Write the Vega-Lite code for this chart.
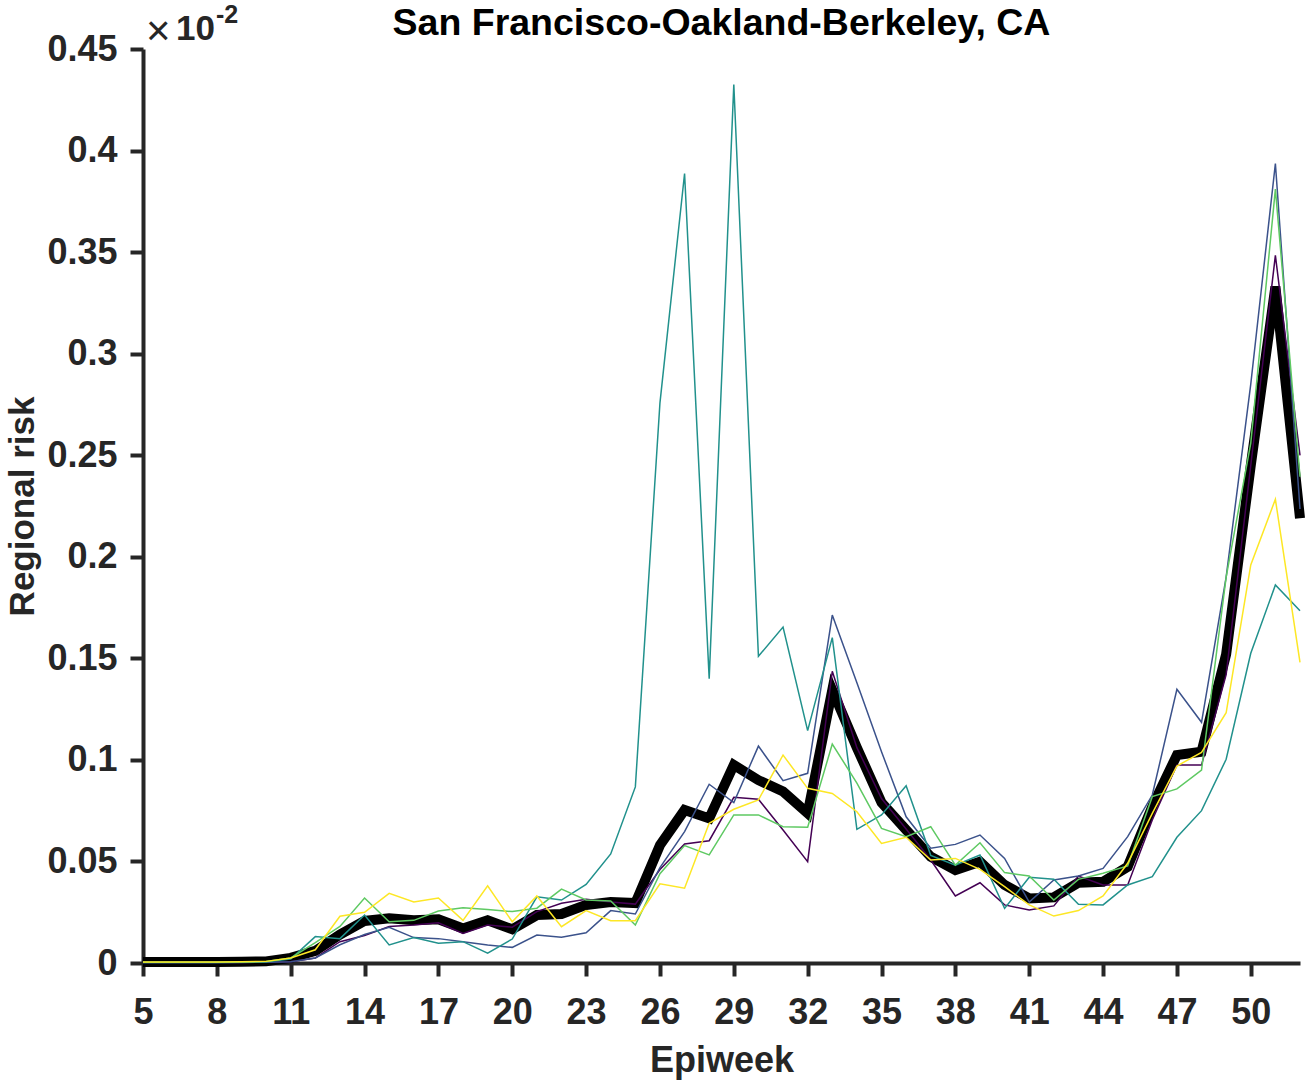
{
  "$schema": "https://vega.github.io/schema/vega-lite/v6.json",
  "width": 1157,
  "height": 914,
  "autosize": {"type": "none"},
  "padding": {"left": 143, "top": 49, "right": 10, "bottom": 120},
  "background": "white",
  "config": {"view": {"stroke": null}, "font": "Liberation Sans"},
  "title": {"text": "San Francisco-Oakland-Berkeley, CA", "fontSize": 37.5, "fontWeight": "bold", "color": "#000000", "anchor": "middle", "offset": 6, "dy": 45, "font": "Liberation Sans"},
  "datasets": {
    "risk": [
      {"w":5,"s":"mean","v":0.0005},{"w":6,"s":"mean","v":0.0005},{"w":7,"s":"mean","v":0.0005},{"w":8,"s":"mean","v":0.0005},{"w":9,"s":"mean","v":0.0006},{"w":10,"s":"mean","v":0.0008},{"w":11,"s":"mean","v":0.0025},{"w":12,"s":"mean","v":0.006},{"w":13,"s":"mean","v":0.014},{"w":14,"s":"mean","v":0.0207},{"w":15,"s":"mean","v":0.022},{"w":16,"s":"mean","v":0.021},{"w":17,"s":"mean","v":0.0215},{"w":18,"s":"mean","v":0.017},{"w":19,"s":"mean","v":0.021},{"w":20,"s":"mean","v":0.0166},{"w":21,"s":"mean","v":0.0236},{"w":22,"s":"mean","v":0.0241},{"w":23,"s":"mean","v":0.0286},{"w":24,"s":"mean","v":0.03},{"w":25,"s":"mean","v":0.0295},{"w":26,"s":"mean","v":0.058},{"w":27,"s":"mean","v":0.0753},{"w":28,"s":"mean","v":0.0712},{"w":29,"s":"mean","v":0.0975},{"w":30,"s":"mean","v":0.09},{"w":31,"s":"mean","v":0.0844},{"w":32,"s":"mean","v":0.0737},{"w":33,"s":"mean","v":0.1344},{"w":34,"s":"mean","v":0.106},{"w":35,"s":"mean","v":0.079},{"w":36,"s":"mean","v":0.0655},{"w":37,"s":"mean","v":0.0523},{"w":38,"s":"mean","v":0.0458},{"w":39,"s":"mean","v":0.0499},{"w":40,"s":"mean","v":0.0384},{"w":41,"s":"mean","v":0.0318},{"w":42,"s":"mean","v":0.0323},{"w":43,"s":"mean","v":0.0395},{"w":44,"s":"mean","v":0.04},{"w":45,"s":"mean","v":0.0474},{"w":46,"s":"mean","v":0.077},{"w":47,"s":"mean","v":0.1024},{"w":48,"s":"mean","v":0.104},{"w":49,"s":"mean","v":0.152},{"w":50,"s":"mean","v":0.245},{"w":51,"s":"mean","v":0.333},{"w":52,"s":"mean","v":0.219},

      {"w":5,"s":"r1","v":0.0002},{"w":6,"s":"r1","v":0.0002},{"w":7,"s":"r1","v":0.0002},{"w":8,"s":"r1","v":0.0002},{"w":9,"s":"r1","v":0.0003},{"w":10,"s":"r1","v":0.0004},{"w":11,"s":"r1","v":0.0006},{"w":12,"s":"r1","v":0.0025},{"w":13,"s":"r1","v":0.0105},{"w":14,"s":"r1","v":0.0135},{"w":15,"s":"r1","v":0.018},{"w":16,"s":"r1","v":0.0187},{"w":17,"s":"r1","v":0.0198},{"w":18,"s":"r1","v":0.0146},{"w":19,"s":"r1","v":0.0187},{"w":20,"s":"r1","v":0.0176},{"w":21,"s":"r1","v":0.0253},{"w":22,"s":"r1","v":0.0294},{"w":23,"s":"r1","v":0.0314},{"w":24,"s":"r1","v":0.03},{"w":25,"s":"r1","v":0.029},{"w":26,"s":"r1","v":0.046},{"w":27,"s":"r1","v":0.0586},{"w":28,"s":"r1","v":0.0602},{"w":29,"s":"r1","v":0.0816},{"w":30,"s":"r1","v":0.0806},{"w":31,"s":"r1","v":0.0655},{"w":32,"s":"r1","v":0.0499},{"w":33,"s":"r1","v":0.1436},{"w":34,"s":"r1","v":0.106},{"w":35,"s":"r1","v":0.081},{"w":36,"s":"r1","v":0.066},{"w":37,"s":"r1","v":0.0507},{"w":38,"s":"r1","v":0.033},{"w":39,"s":"r1","v":0.0395},{"w":40,"s":"r1","v":0.0286},{"w":41,"s":"r1","v":0.0261},{"w":42,"s":"r1","v":0.0281},{"w":43,"s":"r1","v":0.0428},{"w":44,"s":"r1","v":0.0384},{"w":45,"s":"r1","v":0.0384},{"w":46,"s":"r1","v":0.0704},{"w":47,"s":"r1","v":0.0975},{"w":48,"s":"r1","v":0.0975},{"w":49,"s":"r1","v":0.142},{"w":50,"s":"r1","v":0.245},{"w":51,"s":"r1","v":0.3484},{"w":52,"s":"r1","v":0.2499},

      {"w":5,"s":"r2","v":0.0002},{"w":6,"s":"r2","v":0.0002},{"w":7,"s":"r2","v":0.0002},{"w":8,"s":"r2","v":0.0003},{"w":9,"s":"r2","v":0.0003},{"w":10,"s":"r2","v":0.0004},{"w":11,"s":"r2","v":0.0006},{"w":12,"s":"r2","v":0.0025},{"w":13,"s":"r2","v":0.009},{"w":14,"s":"r2","v":0.014},{"w":15,"s":"r2","v":0.0176},{"w":16,"s":"r2","v":0.0125},{"w":17,"s":"r2","v":0.012},{"w":18,"s":"r2","v":0.0105},{"w":19,"s":"r2","v":0.0089},{"w":20,"s":"r2","v":0.0077},{"w":21,"s":"r2","v":0.0138},{"w":22,"s":"r2","v":0.0127},{"w":23,"s":"r2","v":0.0149},{"w":24,"s":"r2","v":0.0258},{"w":25,"s":"r2","v":0.0241},{"w":26,"s":"r2","v":0.047},{"w":27,"s":"r2","v":0.0647},{"w":28,"s":"r2","v":0.088},{"w":29,"s":"r2","v":0.079},{"w":30,"s":"r2","v":0.1068},{"w":31,"s":"r2","v":0.0898},{"w":32,"s":"r2","v":0.0934},{"w":33,"s":"r2","v":0.1713},{"w":34,"s":"r2","v":0.138},{"w":35,"s":"r2","v":0.104},{"w":36,"s":"r2","v":0.072},{"w":37,"s":"r2","v":0.0565},{"w":38,"s":"r2","v":0.0584},{"w":39,"s":"r2","v":0.063},{"w":40,"s":"r2","v":0.0515},{"w":41,"s":"r2","v":0.03},{"w":42,"s":"r2","v":0.0409},{"w":43,"s":"r2","v":0.0428},{"w":44,"s":"r2","v":0.0466},{"w":45,"s":"r2","v":0.0622},{"w":46,"s":"r2","v":0.0827},{"w":47,"s":"r2","v":0.1348},{"w":48,"s":"r2","v":0.1185},{"w":49,"s":"r2","v":0.19},{"w":50,"s":"r2","v":0.285},{"w":51,"s":"r2","v":0.3936},{"w":52,"s":"r2","v":0.2235},

      {"w":5,"s":"r3","v":0.0003},{"w":6,"s":"r3","v":0.0003},{"w":7,"s":"r3","v":0.0003},{"w":8,"s":"r3","v":0.0003},{"w":9,"s":"r3","v":0.0004},{"w":10,"s":"r3","v":0.0006},{"w":11,"s":"r3","v":0.002},{"w":12,"s":"r3","v":0.013},{"w":13,"s":"r3","v":0.012},{"w":14,"s":"r3","v":0.0236},{"w":15,"s":"r3","v":0.0089},{"w":16,"s":"r3","v":0.0125},{"w":17,"s":"r3","v":0.0097},{"w":18,"s":"r3","v":0.0105},{"w":19,"s":"r3","v":0.0048},{"w":20,"s":"r3","v":0.0118},{"w":21,"s":"r3","v":0.0326},{"w":22,"s":"r3","v":0.031},{"w":23,"s":"r3","v":0.0387},{"w":24,"s":"r3","v":0.0537},{"w":25,"s":"r3","v":0.0867},{"w":26,"s":"r3","v":0.2758},{"w":27,"s":"r3","v":0.3887},{"w":28,"s":"r3","v":0.14},{"w":29,"s":"r3","v":0.4325},{"w":30,"s":"r3","v":0.151},{"w":31,"s":"r3","v":0.1654},{"w":32,"s":"r3","v":0.1144},{"w":33,"s":"r3","v":0.1602},{"w":34,"s":"r3","v":0.0658},{"w":35,"s":"r3","v":0.0729},{"w":36,"s":"r3","v":0.0873},{"w":37,"s":"r3","v":0.053},{"w":38,"s":"r3","v":0.0482},{"w":39,"s":"r3","v":0.0532},{"w":40,"s":"r3","v":0.0269},{"w":41,"s":"r3","v":0.0422},{"w":42,"s":"r3","v":0.0412},{"w":43,"s":"r3","v":0.0289},{"w":44,"s":"r3","v":0.0286},{"w":45,"s":"r3","v":0.0384},{"w":46,"s":"r3","v":0.0425},{"w":47,"s":"r3","v":0.0619},{"w":48,"s":"r3","v":0.075},{"w":49,"s":"r3","v":0.1003},{"w":50,"s":"r3","v":0.1525},{"w":51,"s":"r3","v":0.1861},{"w":52,"s":"r3","v":0.1734},

      {"w":5,"s":"r4","v":0.0004},{"w":6,"s":"r4","v":0.0004},{"w":7,"s":"r4","v":0.0004},{"w":8,"s":"r4","v":0.0004},{"w":9,"s":"r4","v":0.0005},{"w":10,"s":"r4","v":0.0007},{"w":11,"s":"r4","v":0.0025},{"w":12,"s":"r4","v":0.01},{"w":13,"s":"r4","v":0.018},{"w":14,"s":"r4","v":0.032},{"w":15,"s":"r4","v":0.0203},{"w":16,"s":"r4","v":0.021},{"w":17,"s":"r4","v":0.0256},{"w":18,"s":"r4","v":0.0272},{"w":19,"s":"r4","v":0.0264},{"w":20,"s":"r4","v":0.0253},{"w":21,"s":"r4","v":0.027},{"w":22,"s":"r4","v":0.0364},{"w":23,"s":"r4","v":0.031},{"w":24,"s":"r4","v":0.0305},{"w":25,"s":"r4","v":0.0187},{"w":26,"s":"r4","v":0.044},{"w":27,"s":"r4","v":0.0578},{"w":28,"s":"r4","v":0.0532},{"w":29,"s":"r4","v":0.0729},{"w":30,"s":"r4","v":0.0729},{"w":31,"s":"r4","v":0.0671},{"w":32,"s":"r4","v":0.0668},{"w":33,"s":"r4","v":0.1078},{"w":34,"s":"r4","v":0.0886},{"w":35,"s":"r4","v":0.0663},{"w":36,"s":"r4","v":0.0622},{"w":37,"s":"r4","v":0.0671},{"w":38,"s":"r4","v":0.0482},{"w":39,"s":"r4","v":0.0592},{"w":40,"s":"r4","v":0.0445},{"w":41,"s":"r4","v":0.0428},{"w":42,"s":"r4","v":0.031},{"w":43,"s":"r4","v":0.0412},{"w":44,"s":"r4","v":0.0442},{"w":45,"s":"r4","v":0.0478},{"w":46,"s":"r4","v":0.0819},{"w":47,"s":"r4","v":0.0857},{"w":48,"s":"r4","v":0.095},{"w":49,"s":"r4","v":0.19},{"w":50,"s":"r4","v":0.256},{"w":51,"s":"r4","v":0.381},{"w":52,"s":"r4","v":0.2394},

      {"w":5,"s":"r5","v":0.0005},{"w":6,"s":"r5","v":0.0005},{"w":7,"s":"r5","v":0.0005},{"w":8,"s":"r5","v":0.0005},{"w":9,"s":"r5","v":0.0006},{"w":10,"s":"r5","v":0.0008},{"w":11,"s":"r5","v":0.0025},{"w":12,"s":"r5","v":0.0065},{"w":13,"s":"r5","v":0.023},{"w":14,"s":"r5","v":0.025},{"w":15,"s":"r5","v":0.0343},{"w":16,"s":"r5","v":0.03},{"w":17,"s":"r5","v":0.032},{"w":18,"s":"r5","v":0.021},{"w":19,"s":"r5","v":0.038},{"w":20,"s":"r5","v":0.0203},{"w":21,"s":"r5","v":0.033},{"w":22,"s":"r5","v":0.0179},{"w":23,"s":"r5","v":0.0258},{"w":24,"s":"r5","v":0.0208},{"w":25,"s":"r5","v":0.0208},{"w":26,"s":"r5","v":0.039},{"w":27,"s":"r5","v":0.0368},{"w":28,"s":"r5","v":0.0688},{"w":29,"s":"r5","v":0.0757},{"w":30,"s":"r5","v":0.0803},{"w":31,"s":"r5","v":0.1024},{"w":32,"s":"r5","v":0.086},{"w":33,"s":"r5","v":0.0835},{"w":34,"s":"r5","v":0.0745},{"w":35,"s":"r5","v":0.0589},{"w":36,"s":"r5","v":0.0619},{"w":37,"s":"r5","v":0.0507},{"w":38,"s":"r5","v":0.0515},{"w":39,"s":"r5","v":0.0461},{"w":40,"s":"r5","v":0.0376},{"w":41,"s":"r5","v":0.0286},{"w":42,"s":"r5","v":0.0231},{"w":43,"s":"r5","v":0.0258},{"w":44,"s":"r5","v":0.033},{"w":45,"s":"r5","v":0.0491},{"w":46,"s":"r5","v":0.0737},{"w":47,"s":"r5","v":0.097},{"w":48,"s":"r5","v":0.1037},{"w":49,"s":"r5","v":0.1232},{"w":50,"s":"r5","v":0.196},{"w":51,"s":"r5","v":0.2283},{"w":52,"s":"r5","v":0.148}
    ],
    "exponent": [
      {"w": 5, "v": 0.45, "t": "×"}
    ],
    "expbase": [
      {"w": 5, "v": 0.45, "t": "10"}
    ],
    "exppow": [
      {"w": 5, "v": 0.45, "t": "-2"}
    ]
  },
  "data": {"name": "risk"},
  "encoding": {
    "x": {
      "field": "w", "type": "quantitative",
      "scale": {"domain": [5, 52], "nice": false, "zero": false},
      "axis": {
        "title": "Epiweek", "values": [5,8,11,14,17,20,23,26,29,32,35,38,41,44,47,50],
        "grid": false, "domainColor": "#262626", "domainWidth": 4, "tickColor": "#262626", "tickWidth": 4, "tickSize": 13,
        "labelFont": "Liberation Sans", "labelFontSize": 36, "labelFontWeight": "bold", "labelColor": "#262626", "labelPadding": 19, "labelFlush": false,
        "titleFont": "Liberation Sans", "titleFontSize": 36, "titleFontWeight": "bold", "titleColor": "#262626", "titlePadding": 13
      }
    },
    "y": {
      "field": "v", "type": "quantitative",
      "scale": {"domain": [0, 0.45], "nice": false},
      "axis": {
        "title": "Regional risk", "values": [0,0.05,0.1,0.15,0.2,0.25,0.3,0.35,0.4,0.45], "format": ".2~f",
        "grid": false, "domainColor": "#262626", "domainWidth": 4, "tickColor": "#262626", "tickWidth": 4, "tickSize": 13,
        "labelFont": "Liberation Sans", "labelFontSize": 36, "labelFontWeight": "bold", "labelColor": "#262626", "labelPadding": 13, "labelFlush": false,
        "titleFont": "Liberation Sans", "titleFontSize": 35, "titleFontWeight": "bold", "titleColor": "#262626", "titlePadding": 6
      }
    }
  },
  "layer": [
    {
      "transform": [{"filter": "datum.s === 'mean'"}],
      "mark": {"type": "line", "color": "#000000", "strokeWidth": 10, "strokeJoin": "miter"}
    },
    {
      "transform": [{"filter": "datum.s !== 'mean'"}],
      "mark": {"type": "line", "strokeWidth": 1.5},
      "encoding": {
        "color": {"field": "s", "type": "nominal", "legend": null,
          "scale": {"domain": ["r1","r2","r3","r4","r5"], "range": ["#440154","#3b528b","#21918c","#5ec962","#fde725"]}}
      }
    },
    {
      "data": {"name": "exponent"},
      "mark": {"type": "text", "font": "Liberation Sans", "fontSize": 42, "fontWeight": "normal", "color": "#262626", "align": "left", "baseline": "alphabetic", "dx": 3, "dy": -4},
      "encoding": {"text": {"field": "t", "type": "nominal"}}
    },
    {
      "data": {"name": "expbase"},
      "mark": {"type": "text", "font": "Liberation Sans", "fontSize": 35, "fontWeight": "bold", "color": "#262626", "align": "left", "baseline": "alphabetic", "dx": 33, "dy": -9},
      "encoding": {"text": {"field": "t", "type": "nominal"}}
    },
    {
      "data": {"name": "exppow"},
      "mark": {"type": "text", "font": "Liberation Sans", "fontSize": 25, "fontWeight": "bold", "color": "#262626", "align": "left", "baseline": "alphabetic", "dx": 73, "dy": -26},
      "encoding": {"text": {"field": "t", "type": "nominal"}}
    }
  ]
}
